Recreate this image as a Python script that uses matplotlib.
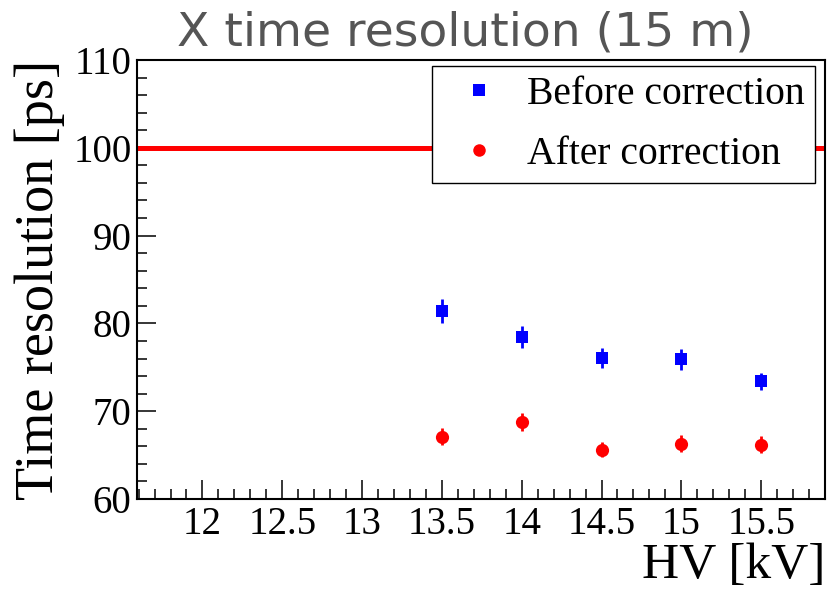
import numpy as np
import matplotlib.pyplot as plt
from matplotlib.ticker import MultipleLocator
from matplotlib.lines import Line2D

# Data
hv = [13.5, 14.0, 14.5, 15.0, 15.5]
before = [81.4, 78.4, 76.1, 75.9, 73.4]
before_err = [1.35, 1.25, 1.15, 1.2, 1.0]
after = [67.1, 68.8, 65.6, 66.3, 66.2]
after_err = [0.95, 1.0, 0.85, 0.95, 0.95]
target = 100
labels = ["Before correction", "After correction"]

SERIF = "Liberation Serif"

fig = plt.figure(figsize=(8.31, 5.90), dpi=100)
ax = fig.add_axes([137 / 831, 91 / 590, 688 / 831, 439 / 590])

ax.axhline(target, color="red", lw=3.6, zorder=2)

ax.errorbar(hv, before, yerr=before_err, fmt="s", color="blue", ms=9,
            mew=0, elinewidth=2, capsize=2.5, capthick=2, zorder=3)
ax.errorbar(hv, after, yerr=after_err, fmt="o", color="red", ms=9.5,
            mew=0, elinewidth=2, capsize=2.5, capthick=2, zorder=3)

ax.set_xlim(11.59, 15.9)
ax.set_ylim(60, 110)
ax.xaxis.set_major_locator(MultipleLocator(0.5))
ax.xaxis.set_minor_locator(MultipleLocator(0.1))
ax.yaxis.set_major_locator(MultipleLocator(10))
ax.yaxis.set_minor_locator(MultipleLocator(2))
ax.xaxis.set_major_formatter(plt.FuncFormatter(lambda v, p: f"{v:g}"))

ax.tick_params(which="both", direction="in", top=False, right=False, width=1.1)
ax.tick_params(which="major", length=13.7)
ax.tick_params(which="minor", length=7.2)
ax.tick_params(axis="y", pad=4)
ax.tick_params(axis="x", pad=5)
for lab in ax.get_xticklabels() + ax.get_yticklabels():
    lab.set_fontfamily(SERIF)
    lab.set_fontsize(28)

for sp in ax.spines.values():
    sp.set_linewidth(1.5)

# Titles and axis labels (ROOT style placement)
fig.text(465 / 831, 1 - 33 / 590, "X time resolution (15 m)", ha="center",
         va="center", fontsize=34, color="#555555", family="DejaVu Sans")
fig.text(40 / 831, 1 - 60 / 590, "Time resolution [ps]", rotation=90,
         ha="center", va="top", fontsize=39, family=SERIF)
fig.text(825 / 831, 1 - 566 / 590, "HV [kV]", ha="right", va="center",
         fontsize=37, family=SERIF)

# Legend with marker-only handles
handles = [Line2D([], [], ls="none", marker="s", color="blue", ms=8.5, mew=0),
           Line2D([], [], ls="none", marker="o", color="red", ms=9, mew=0)]
leg = ax.legend(handles, labels, loc="upper left",
                bbox_to_anchor=(432 / 831, 1 - 66 / 590),
                bbox_transform=fig.transFigure, borderaxespad=0,
                fancybox=False, framealpha=1, edgecolor="black",
                prop={"family": SERIF, "size": 28.5}, handletextpad=0.25,
                labelspacing=0.58, borderpad=0.25, handlelength=1.9)
leg.get_frame().set_linewidth(1.0)

fig.savefig("out.png", dpi=100)
